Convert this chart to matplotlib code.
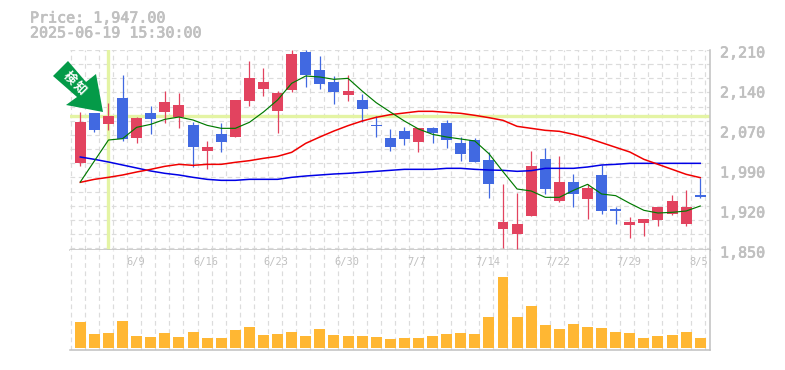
import numpy as np
import matplotlib
matplotlib.use("Agg")
import matplotlib.pyplot as plt
import matplotlib.patheffects as pe
from matplotlib.patches import Polygon, Rectangle

# Values
opens = [2006.6, 2096.6, 2076.8, 2123.6, 2051.6, 2096.6, 2098.4, 2089.4, 2075.0, 2028.2, 2058.8, 2053.4, 2118.2, 2139.8, 2100.2,
         2138.0, 2206.4, 2174.0, 2152.4, 2129.0, 2120.0, 2075.0, 2051.6, 2064.2, 2044.4, 2069.6, 2078.6, 2042.6, 2048.0, 2012.0,
         1887.8, 1878.8, 1911.2, 2013.8, 1938.2, 1972.4, 1941.8, 1985.0, 1923.8, 1895.0, 1898.6, 1904.0, 1914.8, 1896.8, 1949.0]
closes = [2080.4, 2066.0, 2091.2, 2049.8, 2087.6, 2085.8, 2116.4, 2111.0, 2035.4, 2035.4, 2044.4, 2120.0, 2159.6, 2152.4, 2132.6,
          2202.8, 2165.0, 2148.8, 2134.4, 2136.2, 2103.8, 2073.8, 2035.4, 2049.8, 2069.6, 2060.6, 2048.0, 2022.8, 2008.4, 1968.8,
          1900.4, 1896.8, 2001.2, 1959.8, 1972.4, 1950.8, 1961.6, 1920.2, 1920.2, 1900.4, 1905.8, 1927.4, 1938.2, 1927.4, 1945.4]
highs = [2098.4, 2097.2, 2114.6, 2165.0, 2089.4, 2109.2, 2136.2, 2132.6, 2080.4, 2046.2, 2078.6, 2120.0, 2190.2, 2177.6, 2136.2,
         2210.0, 2210.0, 2199.2, 2163.2, 2165.0, 2130.8, 2091.2, 2067.8, 2071.4, 2069.6, 2071.4, 2084.0, 2053.4, 2051.6, 2026.4,
         1968.8, 1952.6, 2028.2, 2033.6, 2019.2, 1986.8, 1968.8, 2003.0, 1927.4, 1909.4, 1905.8, 1927.4, 1949.0, 1958.0, 1979.6]
lows = [2001.2, 2062.4, 2066.0, 2046.2, 2042.6, 2058.8, 2078.6, 2069.6, 1999.4, 1995.8, 2026.4, 2053.4, 2109.2, 2127.2, 2060.6,
        2134.4, 2143.4, 2139.8, 2112.8, 2118.2, 2080.4, 2053.4, 2028.2, 2039.0, 2026.4, 2042.6, 2033.6, 2010.2, 2008.4, 1943.6,
        1853.6, 1851.8, 1911.2, 1950.8, 1936.4, 1927.4, 1905.8, 1914.8, 1896.8, 1871.6, 1875.2, 1893.2, 1913.0, 1893.2, 1943.6]
is_down = [0, 1, 0, 1, 0, 1, 0, 0, 1, 0, 1, 0, 0, 0, 0,
           0, 1, 1, 1, 0, 1, 1, 1, 1, 0, 1, 1, 1, 1, 1,
           0, 0, 0, 1, 0, 1, 0, 1, 1, 0, 0, 0, 0, 0, 1]

ma_green = [1972.4, 2010.2, 2048.0, 2050.4, 2070.8, 2076.2, 2085.2, 2089.4, 2084.0, 2074.4, 2069.0, 2069.0, 2079.8, 2098.4, 2120.0,
            2150.0, 2163.2, 2161.4, 2157.2, 2159.0, 2136.2, 2115.2, 2098.4, 2082.2, 2067.8, 2058.2, 2053.4, 2049.8, 2046.2, 2023.4,
            1991.0, 1959.8, 1956.2, 1944.8, 1944.8, 1957.4, 1968.2, 1950.8, 1947.8, 1934.0, 1921.4, 1916.6, 1917.8, 1920.2, 1929.2]
ma_red = [1971.8, 1977.2, 1980.8, 1985.0, 1990.4, 1995.2, 2000.6, 2004.2, 2002.4, 2004.2, 2004.2, 2007.8, 2010.8, 2015.0, 2018.6,
          2025.8, 2042.0, 2053.4, 2064.2, 2073.8, 2082.2, 2088.8, 2093.6, 2096.6, 2099.6, 2099.6, 2097.8, 2096.0, 2092.4, 2088.2,
          2083.4, 2072.6, 2069.0, 2065.4, 2063.6, 2058.2, 2051.6, 2043.2, 2034.8, 2026.4, 2013.2, 2004.2, 1995.2, 1986.2, 1980.2]
ma_blue = [2017.4, 2013.2, 2008.4, 2003.0, 1997.6, 1992.2, 1988.0, 1985.0, 1980.8, 1977.2, 1975.4, 1975.4, 1977.2, 1977.2, 1977.2,
           1980.8, 1983.2, 1985.0, 1986.8, 1988.0, 1989.8, 1991.6, 1993.4, 1995.2, 1995.2, 1995.2, 1997.0, 1997.0, 1995.2, 1994.0,
           1993.4, 1991.6, 1992.8, 1997.0, 1997.0, 1997.0, 1999.4, 2003.0, 2004.2, 2006.0, 2006.0, 2006.0, 2006.0, 2006.0, 2006.0]

volumes = [26, 14, 15, 27, 12, 11, 15, 11, 16, 10, 10, 18, 21, 13, 14, 16, 12, 19, 13, 12, 12, 11, 9,
           10, 10, 12, 14, 15, 14, 31, 71, 31, 42, 23, 19, 24, 21, 20, 16, 15, 10, 12, 13, 16, 10]

y_labels = ["2,210", "2,140", "2,070", "1,990", "1,920", "1,850"]
date_labels = ["6/9", "6/16", "6/23", "6/30", "7/7", "7/14", "7/22", "7/29", "8/5"]
date_idx = [4, 9, 14, 19, 24, 29, 34, 39, 44]
title_lines = ["Price: 1,947.00", "2025-06-19 15:30:00"]
signal_chars = ["検", "知"]
cross_idx = 2
cross_price = 2090.6

RED = "#e2435f"
BLUE = "#4169e1"
GRAY = "#c0c0c0"
GRID = "#dcdcdc"
CROSS = "#e4f4a4"
W, H = 785, 370
LEFT, RIGHT = 70.0, 710.0
STEP = 14.09
X0 = 80.3

plt.rcParams["font.family"] = ["DejaVu Sans Mono"]

fig = plt.figure(figsize=(W / 100, H / 100), dpi=100)
heavy = [pe.withStroke(linewidth=0.5, foreground=GRAY)]


def make_axes(top, bottom):
    ax = fig.add_axes([LEFT / W, 1 - bottom / H, (RIGHT - LEFT) / W, (bottom - top) / H])
    ax.set_xlim((LEFT - X0) / STEP, (RIGHT - X0) / STEP)
    for s in ["top", "left"]:
        ax.spines[s].set_visible(False)
    for s in ["right", "bottom"]:
        ax.spines[s].set_color(GRAY)
        ax.spines[s].set_linewidth(1.1)
    ax.tick_params(length=0, labelbottom=False, labelleft=False)
    ax.set_xticks(np.arange(46) - 0.681)
    ax.grid(True, axis="x", color=GRID, linestyle=(0, (4, 3)), linewidth=0.85)
    ax.set_axisbelow(True)
    return ax


ax = make_axes(50.0, 250.0)
ax.set_ylim(1850, 2210)
ax.set_yticks(2210 - 25.47 * np.arange(15))
ax.grid(True, axis="y", color=GRID, linestyle=(0, (4, 3)), linewidth=0.85)

ax.axvline(cross_idx, color=CROSS, linewidth=2.4, zorder=1.5)
ax.axhline(cross_price, color=CROSS, linewidth=2.4, zorder=1.5)

for i in range(len(opens)):
    c = BLUE if is_down[i] else RED
    ax.plot([i, i], [lows[i], highs[i]], color=c, linewidth=0.9, zorder=3, solid_capstyle="butt", clip_on=False)
    top = max(opens[i], closes[i])
    bot = min(opens[i], closes[i])
    ax.add_patch(Rectangle((i - 0.39, bot), 0.78, top - bot, facecolor=c, edgecolor="none", zorder=3))

x = np.arange(len(opens))
ax.plot(x, ma_blue, color="#0000e6", linewidth=1.1, zorder=4)
ax.plot(x, ma_red, color="#f00000", linewidth=1.1, zorder=4)
ax.plot(x, ma_green, color="#007a00", linewidth=0.85, zorder=4)

# labels sit evenly spaced, a little under their gridline
for lab, frac in zip(y_labels, np.linspace(1, 0, len(y_labels))):
    ax.annotate(lab, xy=(1, frac), xycoords="axes fraction", xytext=(10, -3), textcoords="offset pixels",
                fontsize=10.8, color=GRAY, ha="left", va="center", annotation_clip=False, path_effects=heavy)

ax_vol = make_axes(250.0, 350.0)
ax_vol.set_ylim(-2, 98)
ax_vol.set_yticks([])
ax_vol.bar(x, volumes, width=0.78, color="#ffb733", zorder=3)
for i, lab in zip(date_idx, date_labels):
    ax_vol.text(i - 0.1, 0.88, lab, transform=ax_vol.get_xaxis_transform(), fontsize=7.5, color=GRAY,
                ha="center", va="center", zorder=5)

fig.text(30 / W, 1 - 18 / H, title_lines[0], fontsize=10.8, color=GRAY, ha="left", va="center", path_effects=heavy)
fig.text(30 / W, 1 - 33 / H, title_lines[1], fontsize=10.8, color=GRAY, ha="left", va="center", path_effects=heavy)

# signal arrow, in pixels from the top left of the picture
arrow_px = [(68, 61), (53, 76), (77, 97), (66, 105), (103, 112), (96, 74), (86, 82)]
arrow = Polygon([(px / W, 1 - py / H) for px, py in arrow_px], closed=True, transform=fig.transFigure,
                facecolor="#049a48", edgecolor="none", zorder=6)
fig.add_artist(arrow)
for ch, (px, py) in zip(signal_chars, [(69, 78), (80, 88)]):
    fig.text(px / W, 1 - py / H, ch, fontsize=9, fontweight="bold", color="white", rotation=-45,
             rotation_mode="anchor", ha="center", va="center", family=["Noto Sans CJK JP", "DejaVu Sans"], zorder=7)

fig.savefig("out.png", dpi=100)
plt.close(fig)
